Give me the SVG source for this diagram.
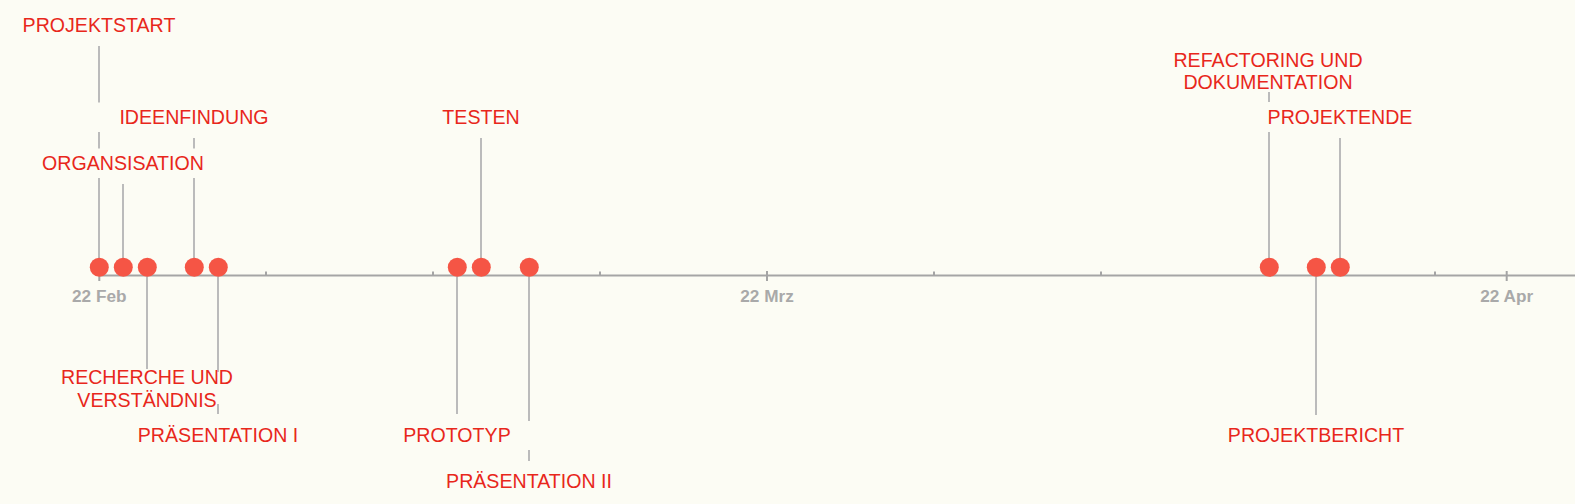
<svg xmlns="http://www.w3.org/2000/svg" width="1575" height="504" viewBox="0 0 1575 504">
<style>
.bg{fill:#fcfcf4}
.lbl{font-family:"Liberation Sans",Arial,sans-serif;font-size:19.6px;fill:#e8271b;text-anchor:middle}
.ax{font-family:"Liberation Sans",Arial,sans-serif;font-size:17.2px;font-weight:bold;fill:#a9a9a9;text-anchor:middle}
.conn{stroke:#bbbbbb;stroke-width:2;fill:none}
.axis{stroke:#a5a5a5;stroke-width:2;fill:none}
.dot{fill:#f55545}
</style>
<rect class="bg" x="0" y="0" width="1575" height="504"/>
<g id="axis">
<path class="axis" d="M99 275.5 H1575"/>
<path class="axis" d="M99.3 271 V281 M767 271 V281 M1506.7 271 V281"/>
<path class="axis" d="M266 271.5 V275 M433 271.5 V275 M600 271.5 V275 M934 271.5 V275 M1101 271.5 V275 M1268 271.5 V275 M1435 271.5 V275"/>
<text class="ax" x="99.3" y="302">22 Feb</text>
<text class="ax" x="767" y="302">22 Mrz</text>
<text class="ax" x="1506.7" y="302">22 Apr</text>
</g>
<g id="connectors">
<path class="conn" d="M99 46 V102.5 M99 132 V148.5 M99 178 V267"/>
<path class="conn" d="M123 184 V267"/>
<path class="conn" d="M147 267 V369"/>
<path class="conn" d="M194 138 V148.5 M194 178 V267"/>
<path class="conn" d="M218 267 V372 M218 404 V414"/>
<path class="conn" d="M457 267 V414"/>
<path class="conn" d="M481 138 V267"/>
<path class="conn" d="M529 267 V421 M529 450 V461"/>
<path class="conn" d="M1269 92 V102 M1269 132 V267"/>
<path class="conn" d="M1340 138 V267"/>
<path class="conn" d="M1316 267 V415"/>
</g>
<g id="projektstart"><circle class="dot" cx="99.3" cy="267.3" r="9.5"/><text class="lbl" x="99" y="32">PROJEKTSTART</text></g>
<g id="organsisation"><circle class="dot" cx="123.3" cy="267.3" r="9.5"/><text class="lbl" x="123" y="170">ORGANSISATION</text></g>
<g id="recherche"><circle class="dot" cx="147.3" cy="267.3" r="9.5"/><text class="lbl" x="147" y="384"><tspan x="147" y="384">RECHERCHE UND</tspan><tspan x="147" y="406.5">VERSTÄNDNIS</tspan></text></g>
<g id="ideenfindung"><circle class="dot" cx="194.3" cy="267.3" r="9.5"/><text class="lbl" x="194" y="124">IDEENFINDUNG</text></g>
<g id="praesentation1"><circle class="dot" cx="218.3" cy="267.3" r="9.5"/><text class="lbl" x="218" y="442">PRÄSENTATION I</text></g>
<g id="prototyp"><circle class="dot" cx="457.3" cy="267.3" r="9.5"/><text class="lbl" x="457" y="442">PROTOTYP</text></g>
<g id="testen"><circle class="dot" cx="481.3" cy="267.3" r="9.5"/><text class="lbl" x="481" y="124">TESTEN</text></g>
<g id="praesentation2"><circle class="dot" cx="529.3" cy="267.3" r="9.5"/><text class="lbl" x="529" y="488.3">PRÄSENTATION II</text></g>
<g id="refactoring"><circle class="dot" cx="1269.3" cy="267.3" r="9.5"/><text class="lbl" x="1268" y="66.7"><tspan x="1268" y="66.7">REFACTORING UND</tspan><tspan x="1268" y="89">DOKUMENTATION</tspan></text></g>
<g id="projektbericht"><circle class="dot" cx="1316.3" cy="267.3" r="9.5"/><text class="lbl" x="1316" y="441.7">PROJEKTBERICHT</text></g>
<g id="projektende"><circle class="dot" cx="1340.3" cy="267.3" r="9.5"/><text class="lbl" x="1340" y="124">PROJEKTENDE</text></g>
</svg>
